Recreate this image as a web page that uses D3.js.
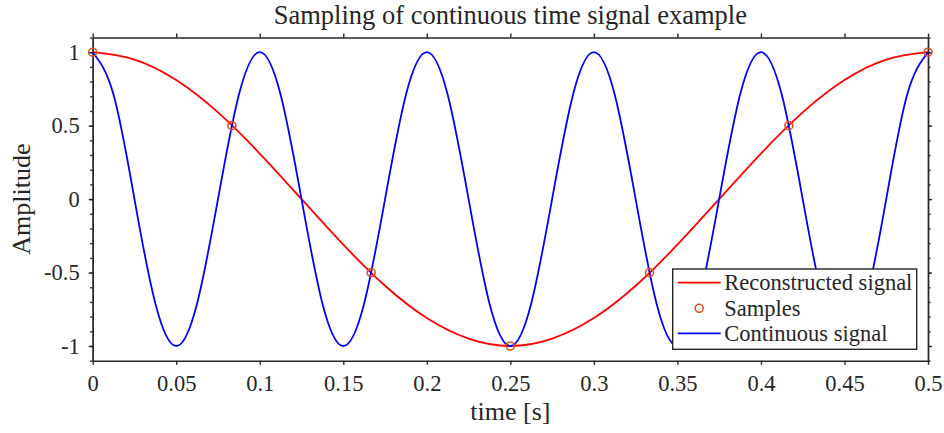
<!DOCTYPE html>
<html>
<head>
<meta charset="utf-8">
<script src="https://cdn.jsdelivr.net/npm/d3@7"></script>
</head>
<body style="margin:0">
<script>
// continuous signal, read every 1/8 of a period
var contTime = [0, 0.0125, 0.025, 0.0375, 0.05, 0.0625, 0.075, 0.0875,
    0.1, 0.1125, 0.125, 0.1375, 0.15, 0.1625, 0.175, 0.1875,
    0.2, 0.2125, 0.225, 0.2375, 0.25, 0.2625, 0.275, 0.2875,
    0.3, 0.3125, 0.325, 0.3375, 0.35, 0.3625, 0.375, 0.3875,
    0.4, 0.4125, 0.425, 0.4375, 0.45, 0.4625, 0.475, 0.4875, 0.5];
var contAmp = [1, 0.71, 0, -0.71, -1, -0.71, 0, 0.71,
    1, 0.71, 0, -0.71, -1, -0.71, 0, 0.71,
    1, 0.71, 0, -0.71, -1, -0.71, 0, 0.71,
    1, 0.71, 0, -0.71, -1, -0.71, 0, 0.71,
    1, 0.71, 0, -0.71, -1, -0.71, 0, 0.71, 1];

// reconstructed signal
var recTime = [0, 0.025, 0.05, 0.075, 0.1, 0.125, 0.15, 0.175, 0.2, 0.225, 0.25,
    0.275, 0.3, 0.325, 0.35, 0.375, 0.4, 0.425, 0.45, 0.475, 0.5];
var recAmp = [1, 0.95, 0.81, 0.59, 0.31, 0, -0.31, -0.59, -0.81, -0.95, -1,
    -0.95, -0.81, -0.59, -0.31, 0, 0.31, 0.59, 0.81, 0.95, 1];

// samples
var sampleTime = [0, 0.0833, 0.1667, 0.25, 0.3333, 0.4167, 0.5];
var sampleAmp = [1, 0.5, -0.5, -1, -0.5, 0.5, 1];

var xTicks = [0, 0.05, 0.1, 0.15, 0.2, 0.25, 0.3, 0.35, 0.4, 0.45, 0.5];
var xTickLabels = ["0", "0.05", "0.1", "0.15", "0.2", "0.25", "0.3", "0.35", "0.4", "0.45", "0.5"];
var yTicks = [-1, -0.5, 0, 0.5, 1];
var yTickLabels = ["-1", "-0.5", "0", "0.5", "1"];
var yMinorTicks = [-1.1, -1, -0.9, -0.8, -0.7, -0.6, -0.5, -0.4, -0.3, -0.2, -0.1, 0,
    0.1, 0.2, 0.3, 0.4, 0.5, 0.6, 0.7, 0.8, 0.9, 1, 1.1];

var legendNames = ["Reconstructed signal", "Samples", "Continuous signal"];

var WIDTH = 944;
var HEIGHT = 433;
var LEFT = 92.7, RIGHT = 928, TOP = 37.5, BOTTOM = 360.7;
var AXIS_COLOR = '#262626';

var zip = function (xs, ys) {
    return xs.map(function (x, i) { return {x: x, y: ys[i]}; });
};

var xScale = d3.scaleLinear().domain([0, 0.5]).range([LEFT, RIGHT]);
var yScale = d3.scaleLinear().domain([-1.1, 1.1]).range([BOTTOM, TOP]);

var svg = d3.select('body').append('svg')
    .attr('width', WIDTH)
    .attr('height', HEIGHT);

var setFont = function (sel, size) {
    return sel.style('font-family', "'Liberation Serif'")
        .style('font-size', size + 'px')
        .attr('fill', AXIS_COLOR);
};

// axes
var fmtX = function (d) { return xTickLabels[xTicks.indexOf(d)]; };
var fmtY = function (d) { return yTickLabels[yTicks.indexOf(d)]; };

var drawAxis = function (axis, tx, ty) {
    var g = svg.append('g')
        .attr('transform', 'translate(' + tx + ',' + ty + ')')
        .call(axis);
    g.selectAll('path, line').attr('stroke', AXIS_COLOR).attr('stroke-width', 1.4);
    setFont(g.selectAll('text'), 22.5);
    return g;
};

var gx = drawAxis(d3.axisBottom(xScale).tickValues(xTicks).tickFormat(fmtX)
    .tickSize(4).tickSizeOuter(0).tickPadding(10), 0, BOTTOM);
gx.selectAll('text').attr('dy', '0.71em');
drawAxis(d3.axisTop(xScale).tickValues(xTicks).tickFormat('')
    .tickSize(4).tickSizeOuter(0), 0, TOP);
drawAxis(d3.axisLeft(yScale).tickValues(yTicks).tickFormat(fmtY)
    .tickSize(4).tickSizeOuter(0).tickPadding(9), LEFT, 0);
drawAxis(d3.axisRight(yScale).tickValues(yTicks).tickFormat('')
    .tickSize(4).tickSizeOuter(0), RIGHT, 0);
drawAxis(d3.axisLeft(yScale).tickValues(yMinorTicks).tickFormat('')
    .tickSize(2.5).tickSizeOuter(0), LEFT, 0);
drawAxis(d3.axisRight(yScale).tickValues(yMinorTicks).tickFormat('')
    .tickSize(2.5).tickSizeOuter(0), RIGHT, 0);

// curves
var line = d3.line()
    .x(function (d) { return xScale(d.x); })
    .y(function (d) { return yScale(d.y); })
    .curve(d3.curveNatural);

var plot = svg.append('g');
plot.append('path')
    .attr('d', line(zip(recTime, recAmp)))
    .attr('fill', 'none').attr('stroke', '#ff0000').attr('stroke-width', 1.8);
plot.append('path')
    .attr('d', line(zip(contTime, contAmp)))
    .attr('fill', 'none').attr('stroke', '#0000ff').attr('stroke-width', 1.8);
plot.selectAll('circle').data(zip(sampleTime, sampleAmp)).enter().append('circle')
    .attr('cx', function (d) { return xScale(d.x); })
    .attr('cy', function (d) { return yScale(d.y); })
    .attr('r', 4)
    .attr('fill', 'none').attr('stroke', '#d95319').attr('stroke-width', 1.6);

// labels
setFont(svg.append('text'), 26.5)
    .attr('x', (LEFT + RIGHT) / 2).attr('y', 24)
    .attr('text-anchor', 'middle')
    .text('Sampling of continuous time signal example');
setFont(svg.append('text'), 26)
    .attr('x', (LEFT + RIGHT) / 2).attr('y', 420)
    .attr('text-anchor', 'middle')
    .text('time [s]');
setFont(svg.append('text'), 26)
    .attr('transform', 'translate(30,' + (TOP + BOTTOM) / 2 + ') rotate(-90)')
    .attr('text-anchor', 'middle')
    .text('Amplitude');

// legend
var legend = svg.append('g').attr('transform', 'translate(672.7,269)');
legend.append('rect')
    .attr('width', 244).attr('height', 80.3)
    .attr('fill', '#fff').attr('stroke', AXIS_COLOR).attr('stroke-width', 1.4);
var rowY = [13.7, 39.3, 64.3];
var rows = legend.selectAll('.row').data(legendNames).enter().append('g')
    .attr('transform', function (d, i) { return 'translate(0,' + rowY[i] + ')'; });
rows.filter(function (d, i) { return i !== 1; }).append('line')
    .attr('x1', 5).attr('x2', 48)
    .attr('stroke', function (d, i) { return i === 0 ? '#ff0000' : '#0000ff'; })
    .attr('stroke-width', 1.8);
rows.filter(function (d, i) { return i === 1; }).append('circle')
    .attr('cx', 26.5).attr('r', 4)
    .attr('fill', 'none').attr('stroke', '#d95319').attr('stroke-width', 1.6);
setFont(rows.append('text'), 22.5)
    .attr('x', 51.6).attr('dy', '0.33em')
    .text(function (d) { return d; });
</script>
</body>
</html>
